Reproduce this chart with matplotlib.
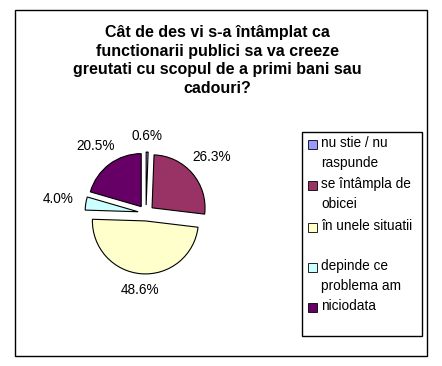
import numpy as np
import matplotlib
matplotlib.use('Agg')
import matplotlib.pyplot as plt
from matplotlib.patches import Rectangle

plt.rcParams['font.family'] = ['Liberation Sans', 'DejaVu Sans']

# data
categories = ['nu stie / nu\nraspunde', 'se întâmpla de\nobicei', 'în unele situatii',
              'depinde ce\nproblema am', 'niciodata']
values = [0.6, 26.3, 48.6, 4.0, 20.5]
colors = ['#9999FF', '#993366', '#FFFFCC', '#CCFFFF', '#660066']
title = 'Cât de des vi s-a întâmplat ca\nfunctionarii publici sa va creeze\ngreutati cu scopul de a primi bani sau\ncadouri?'

W, H = 442, 366
fig = plt.figure(figsize=(W / 100, H / 100), dpi=100)
fig.patch.set_facecolor('white')


def fx(x):
    return x / W


def fy(y):
    return 1 - y / H


# outer chart border
fig.patches.append(Rectangle((fx(14.5), fy(355.5)), fx(412), (355.5 - 10) / H,
                             transform=fig.transFigure, fill=False, ec='black', lw=1.0))

fig.text(fx(217), fy(25), title, ha='center', va='top', fontsize=11.5,
         fontweight='bold', linespacing=1.3)

# pie
cx, cy, r = 146, 213, 53
half = 1.6 * r
ax = fig.add_axes([fx(cx - half), fy(cy + half), 2 * half / W, 2 * half / H])
wedges, _, autotexts = ax.pie(values, colors=colors, startangle=90, counterclock=False,
                              explode=[0.15] * len(values), autopct='%1.1f%%',
                              wedgeprops=dict(edgecolor='black', linewidth=0.8),
                              textprops=dict(fontsize=9.8))
# labels sit just outside the arc, a bit farther out on the sides
for w, t in zip(wedges, autotexts):
    th = np.deg2rad((w.theta1 + w.theta2) / 2)
    d = 1.44 + 0.24 * abs(np.cos(th))
    t.set_position((d * np.cos(th), d * np.sin(th)))
    t.set_ha('center')
    t.set_va('center')
ax.set_xlim(-1.6, 1.6)
ax.set_ylim(-1.6, 1.6)
ax.set_aspect('equal')
ax.axis('off')

# legend box
fig.patches.append(Rectangle((fx(302), fy(336)), (422 - 302) / W, (336 - 132) / H,
                             transform=fig.transFigure, fill=False, ec='black', lw=1.0))
entry_y = [144, 185, 227, 267, 307]
for lab, col, y in zip(categories, colors, entry_y):
    fig.patches.append(Rectangle((fx(307.5), fy(y + 4.5)), 9 / W, 9 / H,
                                 transform=fig.transFigure, fc=col, ec='black', lw=0.6))
    fig.text(fx(321), fy(y - 8), lab, ha='left', va='top', fontsize=9.8, linespacing=1.55)

fig.savefig('out.png', dpi=100)
